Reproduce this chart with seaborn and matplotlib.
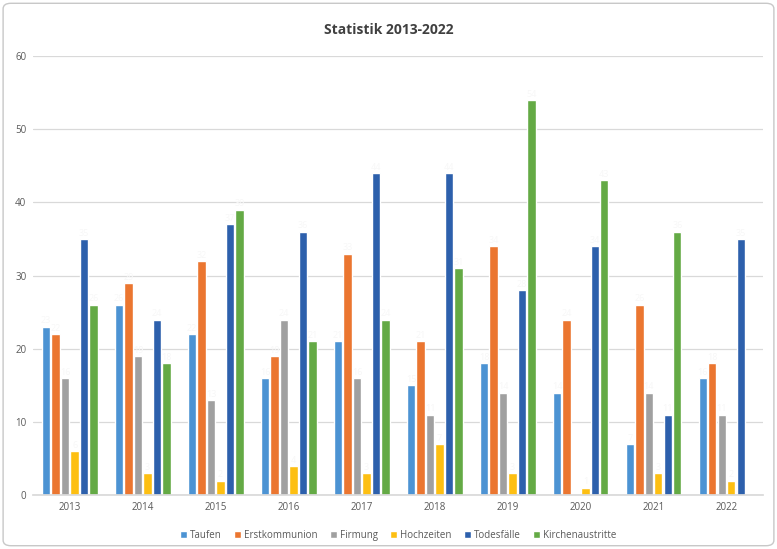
import matplotlib
matplotlib.use("Agg")
import matplotlib.pyplot as plt
import seaborn as sns
import pandas as pd
from matplotlib.patches import FancyBboxPatch

years = ["2013", "2014", "2015", "2016", "2017", "2018", "2019", "2020", "2021", "2022"]
series = ["Taufen", "Erstkommunion", "Firmung", "Hochzeiten", "Todesfälle", "Kirchenaustritte"]
taufen = [23, 26, 22, 16, 21, 15, 18, 14, 7, 16]
erstkommunion = [22, 29, 32, 19, 33, 21, 34, 24, 26, 18]
firmung = [16, 19, 13, 24, 16, 11, 14, 0, 14, 11]
hochzeiten = [6, 3, 2, 4, 3, 7, 3, 1, 3, 2]
todesfaelle = [35, 24, 37, 36, 44, 44, 28, 34, 11, 35]
kirchenaustritte = [26, 18, 39, 21, 24, 31, 54, 43, 36, 0]
colors = ["#4C93D3", "#EB7630", "#A0A0A0", "#FDBF12", "#2D60AC", "#64AA45"]

values = [taufen, erstkommunion, firmung, hochzeiten, todesfaelle, kirchenaustritte]
rows = []
for s, vals in zip(series, values):
    for y, v in zip(years, vals):
        rows.append({"Jahr": y, "Serie": s, "Wert": v})
df = pd.DataFrame(rows)

sns.set_theme(style="white")
plt.rcParams['font.family'] = ['Open Sans', 'DejaVu Sans']

fig = plt.figure(figsize=(7.77, 5.49), dpi=100)
ax = fig.add_axes([0.043, 0.098, 0.939, 0.8])

sns.barplot(data=df, x="Jahr", y="Wert", hue="Serie", hue_order=series, order=years,
            palette=colors, width=0.78, gap=0.12, ax=ax, errorbar=None, saturation=1)

for cont in ax.containers:
    labels = [f"{int(b.get_height())}" if b.get_height() > 0 else "" for b in cont]
    ax.bar_label(cont, labels=labels, fontsize=6.5, color="#F7F7F7", padding=1)

ax.set_ylim(0, 60)
ax.set_xlim(-0.5, 9.5)
ax.set_yticks(range(0, 61, 10))
ax.yaxis.grid(True, color="#D9D9D9", linewidth=0.9)
ax.set_axisbelow(True)
for sp in ["top", "right", "left"]:
    ax.spines[sp].set_visible(False)
ax.spines["bottom"].set_color("#D9D9D9")
ax.tick_params(axis="both", labelsize=7, colors="#595959", length=0, pad=5)
ax.set_xlabel("")
ax.set_ylabel("")

ax.legend(loc="upper center", bbox_to_anchor=(0.5, -0.06), ncol=6, frameon=False,
          fontsize=7, handlelength=0.7, handleheight=0.7, handletextpad=0.3,
          columnspacing=1.3, labelcolor="#595959")

fig.text(0.5, 0.945, "Statistik 2013-2022", ha="center", va="center",
         fontsize=10, fontweight="bold", color="#404040")

frame = FancyBboxPatch((0.004, 0.006), 0.992, 0.988, boxstyle="round,pad=0,rounding_size=0.01",
                       transform=fig.transFigure, fill=False, edgecolor="#C8C8C8", linewidth=1)
fig.patches.append(frame)

fig.savefig("out.png", dpi=100)
